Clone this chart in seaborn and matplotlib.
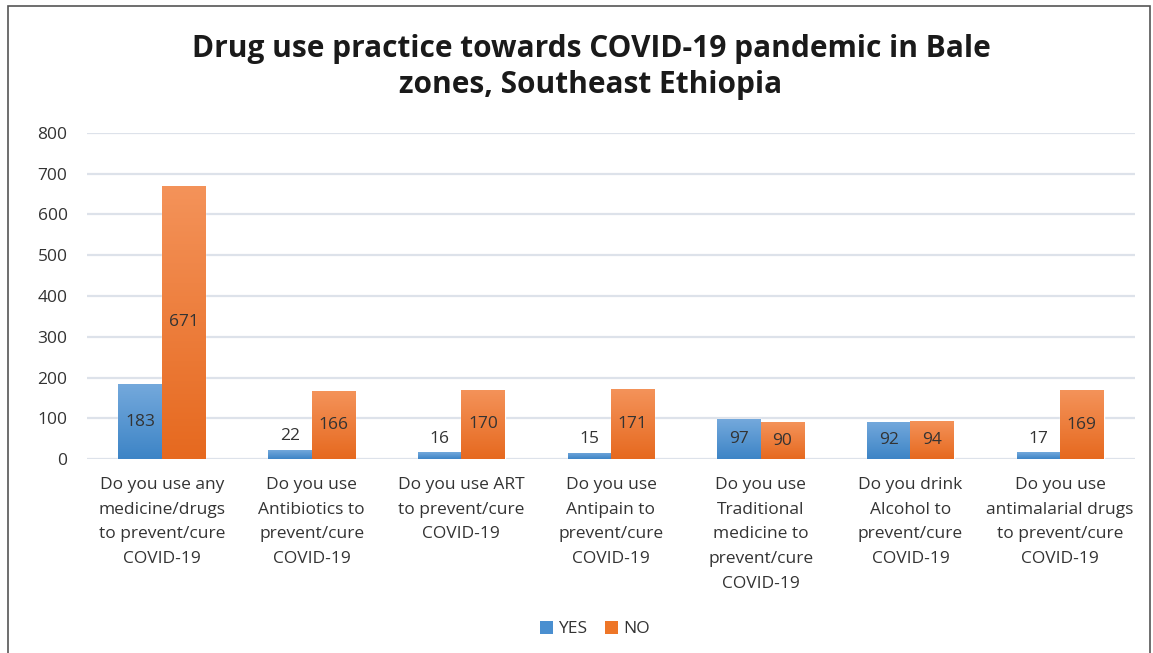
import numpy as np
import pandas as pd
import matplotlib
matplotlib.use("Agg")
import matplotlib.pyplot as plt
import seaborn as sns
from matplotlib.colors import LinearSegmentedColormap
from matplotlib.patches import Rectangle, Patch

categories = [
    "Do you use any\nmedicine/drugs\nto prevent/cure\nCOVID-19",
    "Do you use\nAntibiotics to\nprevent/cure\nCOVID-19",
    "Do you use ART\nto prevent/cure\nCOVID-19",
    "Do you use\nAntipain to\nprevent/cure\nCOVID-19",
    "Do you use\nTraditional\nmedicine to\nprevent/cure\nCOVID-19",
    "Do you drink\nAlcohol to\nprevent/cure\nCOVID-19",
    "Do you use\nantimalarial drugs\nto prevent/cure\nCOVID-19",
]
yes_values = [183, 22, 16, 15, 97, 92, 17]
no_values = [671, 166, 170, 171, 90, 94, 169]
series = ["YES", "NO"]
yticks = [0, 100, 200, 300, 400, 500, 600, 700, 800]

sns.set_theme(style="white")
plt.rcParams["font.family"] = ["Open Sans", "DejaVu Sans"]

df = pd.DataFrame({
    "category": categories * 2,
    "series": ["YES"] * len(categories) + ["NO"] * len(categories),
    "value": yes_values + no_values,
})

base = {"YES": "#4a8fd0", "NO": "#ee7628"}
grad_cols = {"YES": ("#3d84c6", "#74a9dc"), "NO": ("#e6691f", "#f4935a")}
text_col = "#333333"
fs = 12.5

fig = plt.figure(figsize=(11.53, 6.53), dpi=100)
ax = fig.add_axes([87 / 1153, 1 - 459 / 653, (1135 - 87) / 1153, (459 - 133) / 653])

sns.barplot(data=df, x="category", y="value", hue="series", hue_order=series,
            palette=base, width=0.58, gap=0, ax=ax, legend=False, saturation=1)

ax.set_ylim(0, 800)
ax.set_yticks(yticks)
ax.set_xticks(range(len(categories)))
ax.set_xticklabels(categories)
ax.set_xlabel("")
ax.set_ylabel("")
ax.grid(axis="y", color="#dde2ea", linewidth=1.6, zorder=0)
ax.set_axisbelow(True)
for s in ax.spines.values():
    s.set_visible(False)
ax.tick_params(axis="both", length=0, labelsize=fs, colors=text_col)
ax.tick_params(axis="y", pad=14)
ax.tick_params(axis="x", pad=13)
for lab in ax.get_xticklabels():
    lab.set_linespacing(1.72)

xlim = ax.get_xlim()
# gradient fill on bars
for cont, name in zip(ax.containers, series):
    cmap = LinearSegmentedColormap.from_list(name, list(grad_cols[name]))
    for bar in cont:
        x0, y0 = bar.get_x(), bar.get_y()
        w, h = bar.get_width(), bar.get_height()
        if h <= 0:
            continue
        g = np.linspace(0, 1, 256).reshape(-1, 1)
        im = ax.imshow(g, extent=[x0, x0 + w, y0, y0 + h], origin="lower",
                       aspect="auto", cmap=cmap, zorder=3)
        im.set_clip_path(bar)
ax.set_xlim(xlim)
ax.set_ylim(0, 800)

for cont in ax.containers:
    vals = [b.get_height() for b in cont]
    ax.bar_label(cont, labels=[f"{int(v)}" if v >= 50 else "" for v in vals],
                 label_type="center", fontsize=fs, color=text_col, zorder=5)
    ax.bar_label(cont, labels=[f"{int(v)}" if v < 50 else "" for v in vals],
                 label_type="edge", padding=4, fontsize=fs, color=text_col, zorder=5)

fig.text(591 / 1153, 1 - 67 / 653,
         "Drug use practice towards COVID-19 pandemic in Bale\nzones, Southeast Ethiopia",
         ha="center", va="center", fontsize=21.5, fontweight="bold", color="#1a1a1a",
         linespacing=1.22)

handles = [Patch(facecolor=base[s], edgecolor="none") for s in series]
fig.legend(handles, series, loc="center", bbox_to_anchor=(595 / 1153, 1 - 629 / 653),
           ncol=2, frameon=False, fontsize=fs, handlelength=0.75, handleheight=0.75,
           handletextpad=0.3, columnspacing=1.0, labelcolor=text_col)

fig.patches.append(Rectangle((8 / 1153, -0.05), (1150 - 8) / 1153, 1.05 - 6 / 653,
                             transform=fig.transFigure, fill=False,
                             edgecolor="#555555", linewidth=1.2))

fig.savefig("out.png", dpi=100)
